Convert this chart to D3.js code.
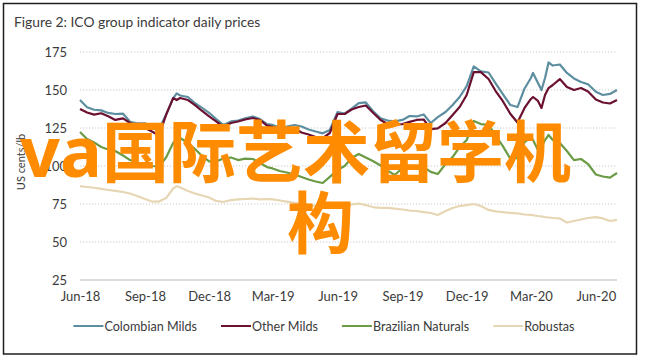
<!DOCTYPE html>
<html>
<head>
<meta charset="utf-8">
<script src="https://cdn.jsdelivr.net/npm/d3@7"></script>
<style>
  html, body { margin: 0; padding: 0; background: #fff; }
  svg { display: block; font-family: Lato, 'Open Sans', sans-serif; }
</style>
</head>
<body>
<div id="chart"></div>
<script>
const dates = [
    '2018-06-01','2018-06-11','2018-06-21','2018-07-01','2018-07-11','2018-07-21','2018-08-01','2018-08-11','2018-08-21',
    '2018-09-01','2018-09-11','2018-09-21','2018-10-01','2018-10-11','2018-10-16','2018-10-21','2018-11-01','2018-11-11',
    '2018-11-21','2018-12-01','2018-12-11','2018-12-21',
    '2019-01-01','2019-01-11','2019-01-21','2019-02-01','2019-02-11','2019-02-21','2019-03-01','2019-03-11','2019-03-21',
    '2019-04-01','2019-04-11','2019-04-21','2019-05-01','2019-05-11','2019-05-21','2019-06-01','2019-06-11','2019-06-21',
    '2019-07-01','2019-07-11','2019-07-21','2019-08-01','2019-08-11','2019-08-21','2019-09-01','2019-09-11','2019-09-21',
    '2019-10-01','2019-10-11','2019-10-21','2019-11-01','2019-11-11','2019-11-21','2019-12-01','2019-12-11','2019-12-21',
    '2020-01-01','2020-01-11','2020-01-21','2020-02-01','2020-02-11','2020-02-21','2020-03-01','2020-03-04','2020-03-11',
    '2020-03-16','2020-03-21','2020-03-26','2020-04-01','2020-04-11','2020-04-21','2020-05-01','2020-05-11','2020-05-21',
    '2020-06-01','2020-06-11','2020-06-21','2020-07-01'
];

const colombianMilds = [
    143.4,138.7,137.0,136.6,134.9,134.2,134.4,129.1,128.0,128.1,125.3,124.0,133.9,144.5,147.8,146.4,145.4,141.3,138.2,135.0,130.9,127.0,
    129.3,129.9,131.3,132.6,130.9,127.6,127.0,125.3,126.0,127.0,126.0,124.0,122.7,121.5,123.7,135.5,134.5,137.8,141.4,141.8,136.2,
    131.4,129.9,129.4,130.3,132.9,132.6,133.9,128.3,132.2,135.5,140.1,145.4,152.6,165.5,162.2,
    161.5,154.3,147.4,140.1,138.8,151.0,157.9,161.2,154.6,150.0,157.9,168.1,166.1,166.8,161.2,157.6,155.3,153.8,148.8,146.7,147.4,150.0
];

const otherMilds = [
    137.5,135.2,133.8,134.7,132.7,130.3,131.3,128.3,126.3,125.0,122.7,120.1,133.6,144.7,143.4,144.7,143.4,140.1,136.2,132.6,129.3,125.7,
    128.3,129.3,130.6,131.6,130.3,126.6,125.7,124.3,124.3,124.7,122.0,120.7,119.1,118.4,121.7,134.2,134.2,137.2,138.8,139.8,135.2,
    130.3,127.6,127.3,127.6,129.0,130.3,130.6,124.3,124.7,128.3,133.6,138.8,146.7,161.8,161.8,
    157.2,149.3,142.8,134.2,128.6,138.2,144.1,145.4,142.8,138.2,146.7,151.3,153.3,157.2,152.0,150.0,151.3,149.0,143.8,141.8,141.1,143.4
];

const brazilianNaturals = [
    122.4,117.8,115.5,112.5,110.9,109.9,106.9,103.9,102.3,101.3,100.0,99.7,105.6,115.1,118.4,118.4,115.1,111.2,106.6,103.0,103.0,104.9,
    105.6,103.9,104.9,104.6,102.0,99.3,98.4,96.7,95.7,94.4,92.8,91.1,89.8,88.8,92.8,97.4,100.0,105.3,107.9,105.6,103.3,
    100.3,97.0,94.1,98.7,100.0,100.0,99.3,96.1,94.7,101.3,105.9,112.5,117.1,129.6,127.6,
    127.0,120.1,113.2,104.6,105.3,115.8,118.8,117.1,110.5,112.5,117.1,120.4,117.1,115.1,109.9,103.9,104.6,101.3,94.4,93.1,92.4,95.4
];

const robustas = [
    86.8,86.2,85.7,84.9,84.2,83.6,82.9,81.9,80.3,78.3,76.6,76.6,78.9,85.2,86.8,85.9,83.6,81.9,80.6,79.3,77.0,76.3,
    77.6,78.0,78.3,78.6,78.0,78.3,78.0,77.3,76.6,75.7,75.3,74.3,73.7,73.0,72.4,72.4,73.0,74.7,75.3,74.3,73.0,
    72.4,72.4,72.0,71.4,70.7,70.4,69.7,69.1,67.8,70.4,72.4,73.7,74.3,75.0,73.7,
    71.1,70.1,69.7,69.1,68.8,68.1,67.8,67.6,67.1,66.8,66.4,66.1,65.8,65.5,62.8,63.8,64.8,65.8,66.4,65.5,63.8,64.5
];

const seriesNames = ['Colombian Milds', 'Other Milds', 'Brazilian Naturals', 'Robustas'];
const yTicks = [25, 50, 75, 100, 125, 150, 175];
const xTicks = ['2018-06-01','2018-09-01','2018-12-01','2019-03-01','2019-06-01','2019-09-01','2019-12-01','2020-03-01','2020-06-01'];
const titleText = 'Figure 2: ICO group indicator daily prices';
const yLabelText = 'US cents/lb';
const overlayLatin = 'va';
const overlayCjk = ['国际艺术留学机', '构'];

const seriesColors = ['#5d8ea0', '#6b1030', '#6b9b45', '#e6d6b3'];
const textColor = '#3b3b3b';

(function drawChart() {
    const width = 646, height = 360;
    const plot = { left: 80, right: 617, top: 52, bottom: 280 };
    const parse = d3.timeParse('%Y-%m-%d');

    const svg = d3.select('#chart').append('svg')
        .attr('width', width)
        .attr('height', height);

    svg.append('rect')
        .attr('x', 3.5).attr('y', 3.5)
        .attr('width', 633).attr('height', 350.5)
        .attr('fill', 'none')
        .attr('stroke', '#1e1e1e')
        .attr('stroke-width', 1.5);

    svg.append('text')
        .attr('x', 14).attr('y', 27)
        .attr('font-size', 13.8)
        .attr('fill', textColor)
        .text(titleText);

    const x = d3.scaleTime()
        .domain([parse(dates[0]), parse(dates[dates.length - 1])])
        .range([plot.left, plot.right]);

    const y = d3.scaleLinear()
        .domain([25, 175])
        .range([plot.bottom, plot.top]);

    // grid lines, dotted except the baseline
    svg.append('g')
        .selectAll('line')
        .data(yTicks)
        .enter()
        .append('line')
        .attr('x1', plot.left)
        .attr('x2', plot.right)
        .attr('y1', d => y(d))
        .attr('y2', d => y(d))
        .attr('stroke', d => d === 25 ? '#dcdcdc' : '#c9c9c9')
        .attr('stroke-width', d => d === 25 ? 2 : 1.2)
        .attr('stroke-dasharray', d => d === 25 ? null : '1.2,1.8');

    const yAxis = svg.append('g')
        .attr('transform', 'translate(67,0)')
        .call(d3.axisLeft(y).tickValues(yTicks).tickSize(0).tickPadding(0));
    yAxis.select('.domain').remove();
    yAxis.selectAll('text')
        .attr('font-family', 'Lato, sans-serif')
        .attr('font-size', 13)
        .attr('fill', textColor);

    const xAxis = svg.append('g')
        .attr('transform', 'translate(0,289)')
        .call(d3.axisBottom(x)
            .tickValues(xTicks.map(parse))
            .tickFormat(d3.timeFormat('%b-%y'))
            .tickSize(0)
            .tickPadding(3));
    xAxis.select('.domain').remove();
    xAxis.selectAll('text')
        .attr('font-family', 'Lato, sans-serif')
        .attr('font-size', 13)
        .attr('fill', textColor);

    svg.append('text')
        .attr('transform', 'translate(25,162) rotate(-90)')
        .attr('text-anchor', 'middle')
        .attr('font-size', 11)
        .attr('fill', textColor)
        .text(yLabelText);

    const allSeries = [colombianMilds, otherMilds, brazilianNaturals, robustas];
    const line = d3.line()
        .x(d => x(d.date))
        .y(d => y(d.value));

    allSeries.forEach((values, i) => {
        const points = values.map((v, j) => ({ date: parse(dates[j]), value: v }));
        svg.append('path')
            .datum(points)
            .attr('fill', 'none')
            .attr('stroke', seriesColors[i])
            .attr('stroke-width', 2.2)
            .attr('stroke-linejoin', 'round')
            .attr('d', line);
    });

    // legend, centred under the plot
    const legend = svg.append('g');
    const items = legend.selectAll('g')
        .data(seriesNames)
        .enter()
        .append('g');
    items.append('line')
        .attr('x1', 0).attr('x2', 30)
        .attr('y1', 0).attr('y2', 0)
        .attr('stroke', (d, i) => seriesColors[i])
        .attr('stroke-width', 2);
    items.append('text')
        .attr('x', 31)
        .attr('y', 4.5)
        .attr('font-size', 12.6)
        .attr('fill', textColor)
        .text(d => d);

    let offset = 0;
    const widths = [];
    items.each(function() {
        widths.push(31 + d3.select(this).select('text').node().getComputedTextLength());
    });
    const gap = 24;
    const total = d3.sum(widths) + gap * (widths.length - 1);
    const startX = 324 - total / 2;
    items.attr('transform', (d, i) => {
        const tx = startX + offset;
        offset += widths[i] + gap;
        return `translate(${tx},326)`;
    });

    // orange overlay text on top of the chart
    const overlay = svg.append('g')
        .attr('font-weight', 'bold')
        .attr('font-size', 68)
        .attr('fill', '#ff8b00');
    const first = overlay.append('text')
        .attr('x', 20).attr('y', 177);
    first.append('tspan')
        .attr('font-family', "'Noto Sans', sans-serif")
        .attr('font-size', 70)
        .text(overlayLatin);
    first.append('tspan')
        .attr('font-family', "'Noto Sans CJK SC', sans-serif")
        .attr('font-size', 67)
        .text(overlayCjk[0]);
    overlay.append('text')
        .attr('x', 287).attr('y', 248)
        .attr('font-family', "'Noto Sans CJK SC', sans-serif")
        .attr('font-size', 67)
        .text(overlayCjk[1]);
})();
</script>
</body>
</html>
